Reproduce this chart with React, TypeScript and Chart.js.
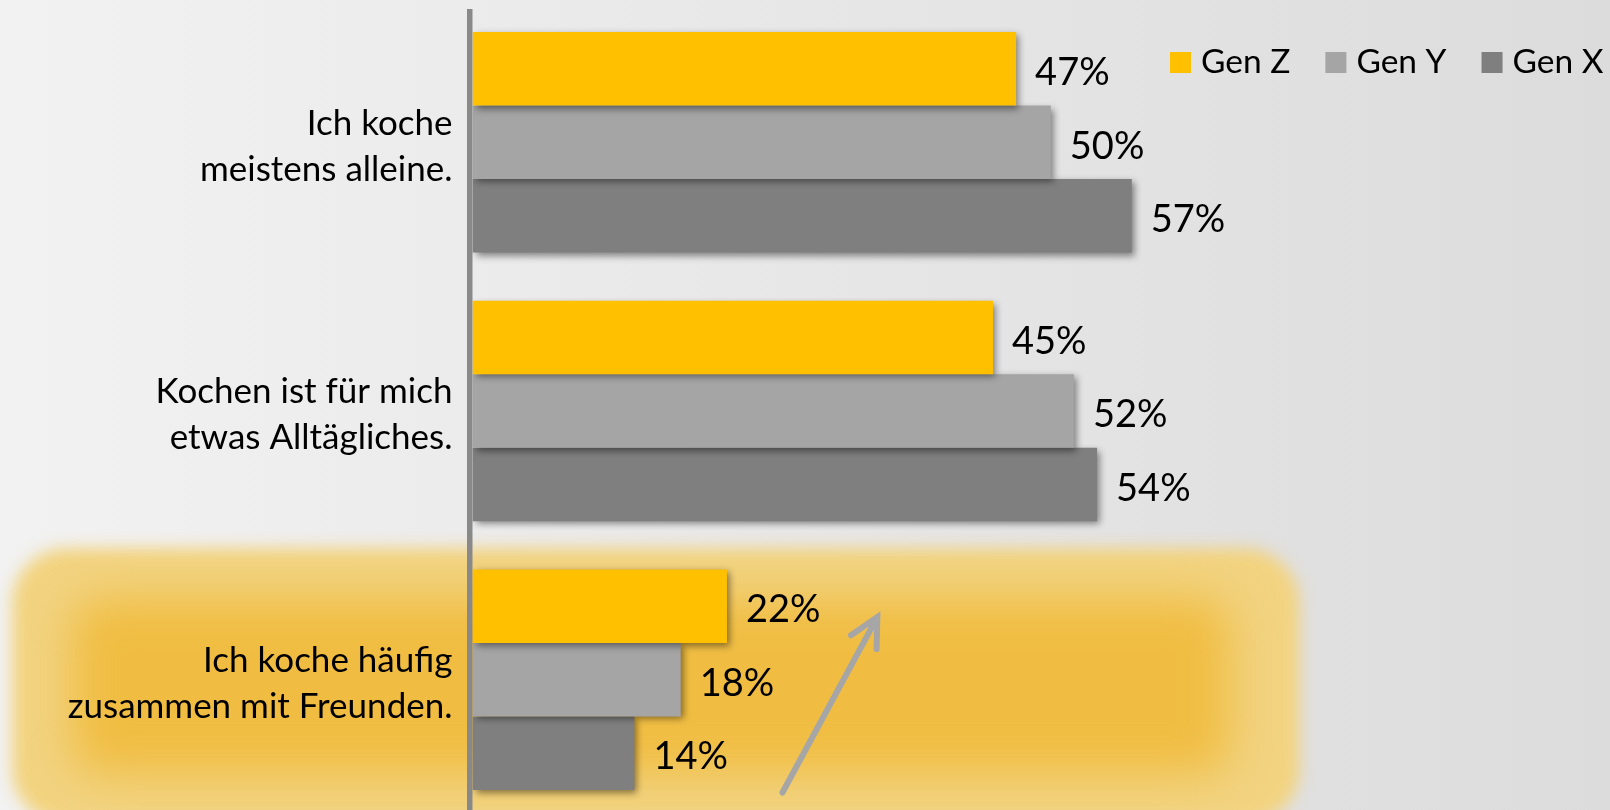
import React, { useEffect, useRef } from "react";
import { Chart, registerables } from "chart.js";

Chart.register(...registerables);

const categories: string[][] = [
  ["Ich koche", "meistens alleine."],
  ["Kochen ist für mich", "etwas Alltägliches."],
  ["Ich koche häufig", "zusammen mit Freunden."],
];
const seriesNames = ["Gen Z", "Gen Y", "Gen X"];
const genZ = [47, 45, 22];
const genY = [50, 52, 18];
const genX = [57, 54, 14];
const seriesColors = ["#FFC000", "#A5A5A5", "#7F7F7F"];

const FONT = "Lato, 'Open Sans', sans-serif";

const backgroundPlugin = {
  id: "bgHighlight",
  beforeDraw(chart: any) {
    const { ctx, width, height, scales } = chart;
    ctx.save();
    const g = ctx.createLinearGradient(0, 0, width, 0);
    g.addColorStop(0, "#f2f2f2");
    g.addColorStop(1, "#dcdcdc");
    ctx.fillStyle = g;
    ctx.fillRect(0, 0, width, height);

    const ys = scales.y;
    const xs = scales.x;
    const step = ys.getPixelForValue(2) - ys.getPixelForValue(1);
    const top = ys.getPixelForValue(2) - step / 2 + 3;
    const bottom = ys.getPixelForValue(2) + step / 2 + 10;
    const left = 12;
    const right = xs.getPixelForValue(71.5);

    ctx.filter = "blur(8px)";
    ctx.fillStyle = "#f2d380";
    ctx.beginPath();
    ctx.roundRect(left, top, right - left, bottom - top, 55);
    ctx.fill();

    ctx.filter = "blur(22px)";
    ctx.fillStyle = "#f0bd42";
    ctx.beginPath();
    ctx.roundRect(left + 60, top + 50, right - left - 130, bottom - top - 100, 30);
    ctx.fill();
    ctx.restore();
  },
};

const shadowAndLabelsPlugin = {
  id: "shadowLabels",
  beforeDatasetsDraw(chart: any) {
    const { ctx, chartArea, height } = chart;
    // value axis line
    ctx.save();
    ctx.fillStyle = "#898989";
    ctx.fillRect(chartArea.left - 5.5, 9, 5.5, height - 9);
    ctx.restore();

    ctx.save();
    ctx.shadowColor = "rgba(0,0,0,0.45)";
    ctx.shadowBlur = 7;
    ctx.shadowOffsetX = 3;
    ctx.shadowOffsetY = 3;
  },
  afterDatasetsDraw(chart: any) {
    const { ctx } = chart;
    ctx.restore();
    ctx.save();
    ctx.font = `38px ${FONT}`;
    ctx.fillStyle = "#000";
    ctx.textAlign = "left";
    ctx.textBaseline = "middle";
    chart.data.datasets.forEach((ds: any, di: number) => {
      const meta = chart.getDatasetMeta(di);
      meta.data.forEach((bar: any, i: number) => {
        ctx.fillText(`${ds.data[i]}%`, bar.x + 19, bar.y + 4);
      });
    });
    ctx.restore();
  },
};

const legendArrowPlugin = {
  id: "legendArrow",
  afterDraw(chart: any) {
    const { ctx, scales } = chart;
    ctx.save();
    // legend
    ctx.font = `33.5px ${FONT}`;
    ctx.textAlign = "left";
    ctx.textBaseline = "alphabetic";
    let x = 1170;
    chart.data.datasets.forEach((ds: any) => {
      ctx.fillStyle = ds.backgroundColor;
      ctx.fillRect(x, 52, 21, 21);
      ctx.fillStyle = "#000";
      ctx.fillText(ds.label, x + 31, 73);
      x += 31 + ctx.measureText(ds.label).width + 35;
    });

    // arrow
    const xs = scales.x;
    const ys = scales.y;
    const tx = xs.getPixelForValue(35.0);
    const ty = ys.getPixelForValue(1.767);
    const fx = xs.getPixelForValue(26.8);
    const fy = ys.getPixelForValue(2.42);
    ctx.strokeStyle = "#a6a6a6";
    ctx.lineWidth = 6;
    ctx.lineCap = "round";
    ctx.beginPath();
    ctx.moveTo(fx, fy);
    ctx.lineTo(tx, ty);
    const ang = Math.atan2(fy - ty, fx - tx);
    const len = 32;
    const spread = (27 * Math.PI) / 180;
    ctx.moveTo(tx + len * Math.cos(ang + spread), ty + len * Math.sin(ang + spread));
    ctx.lineTo(tx, ty);
    ctx.lineTo(tx + len * Math.cos(ang - spread), ty + len * Math.sin(ang - spread));
    ctx.stroke();
    ctx.restore();
  },
};

export default function App() {
  const ref = useRef<HTMLCanvasElement | null>(null);
  useEffect(() => {
    if (!ref.current) return;
    const chart = new Chart(ref.current, {
      type: "bar",
      data: {
        labels: categories,
        datasets: [
          { label: seriesNames[0], data: genZ, backgroundColor: seriesColors[0] },
          { label: seriesNames[1], data: genY, backgroundColor: seriesColors[1] },
          { label: seriesNames[2], data: genX, backgroundColor: seriesColors[2] },
        ],
      },
      options: {
        indexAxis: "y",
        responsive: false,
        animation: false,
        layout: { padding: { top: 8, right: 4, bottom: 0, left: 0 } },
        datasets: { bar: { barPercentage: 1, categoryPercentage: 0.821 } },
        plugins: {
          legend: { display: false },
          tooltip: { enabled: false },
        },
        scales: {
          x: { display: false, min: 0, max: 98 },
          y: {
            afterFit: (s: any) => {
              s.width = 472.5;
              s.paddingTop = 0;
              s.paddingBottom = 0;
            },
            grid: { display: false, drawTicks: false },
            border: { display: false },
            ticks: {
              padding: 20,
              labelOffset: 4,
              color: "#000",
              font: { family: FONT, size: 35, lineHeight: 46 / 35 },
            },
          },
        },
      } as any,
      plugins: [backgroundPlugin, shadowAndLabelsPlugin, legendArrowPlugin],
    });
    return () => chart.destroy();
  }, []);
  return (
    <div
      style={{
        position: "fixed",
        left: 0,
        top: 0,
        width: 1610,
        height: 810,
        overflow: "hidden",
      }}
    >
      <canvas ref={ref} width={1610} height={814} style={{ display: "block" }} />
    </div>
  );
}
